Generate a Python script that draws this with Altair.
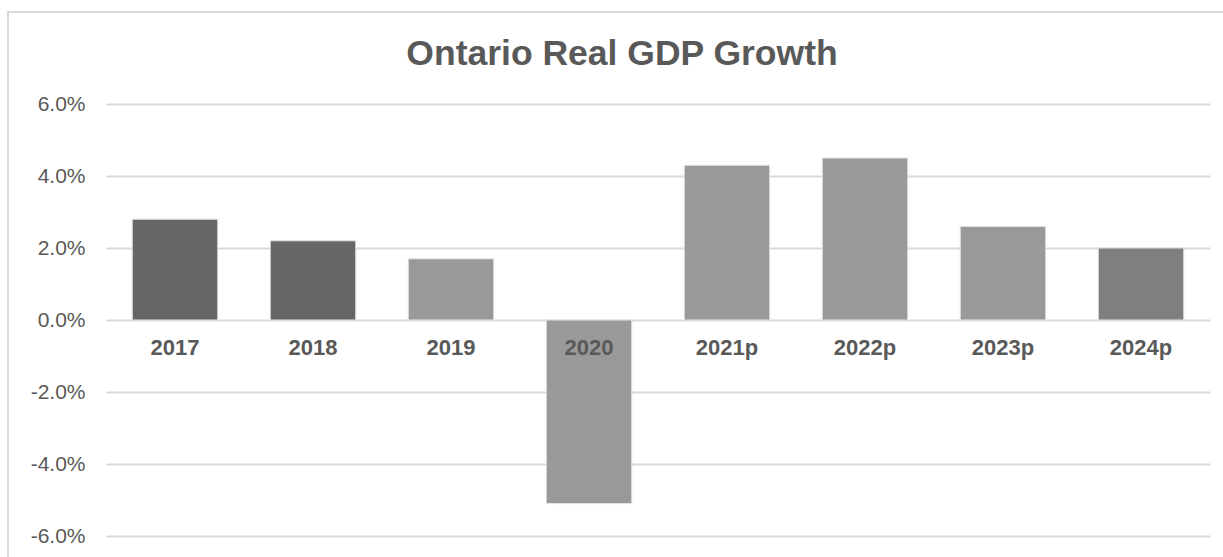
import altair as alt
import pandas as pd

years = ["2017", "2018", "2019", "2020", "2021p", "2022p", "2023p", "2024p"]
growth = [0.028, 0.022, 0.017, -0.051, 0.043, 0.045, 0.026, 0.020]
shade_group = ["A", "A", "B", "B", "B", "B", "B", "C"]

df = pd.DataFrame({"year": years, "growth": growth, "group": shade_group})

FONT = "Liberation Sans"
TXT = "#595959"

xenc = alt.X("year:N", sort=years, axis=None,
             scale=alt.Scale(paddingInner=0.38, paddingOuter=0.19))

frame = alt.Chart(df).mark_rect(fill=None, stroke="#d9d9d9", strokeWidth=2).encode(
    x=alt.value(-98), x2=alt.value(1300), y=alt.value(-92), y2=alt.value(600)
)

bars = alt.Chart(df).mark_bar(stroke="#e6e6e6", strokeWidth=1).encode(
    x=xenc,
    y=alt.Y("growth:Q",
            scale=alt.Scale(domain=[-0.06, 0.06], nice=False, zero=False),
            axis=alt.Axis(values=[-0.06, -0.04, -0.02, 0, 0.02, 0.04, 0.06],
                          format=".1%", title=None, domain=False, ticks=False,
                          labelExpr="replace(datum.label, '\u2212', '-')",
                          labelPadding=21, labelFont=FONT, labelFontSize=21,
                          labelColor=TXT, gridColor="#d9d9d9", gridWidth=2)),
    color=alt.Color("group:N", legend=None,
                    scale=alt.Scale(domain=["A", "B", "C"],
                                    range=["#666666", "#999999", "#7f7f7f"])),
)

labels = alt.Chart(df).mark_text(font=FONT, fontSize=22, fontWeight="bold",
                                 color=TXT, baseline="middle", dy=28).encode(
    x=xenc,
    y=alt.datum(0),
    text="year:N",
)

chart = alt.layer(frame, bars, labels).properties(
    width=1104, height=432,
    background="white",
    title=alt.TitleParams("Ontario Real GDP Growth", font=FONT, fontSize=35.5,
                          fontWeight="bold", color=TXT, anchor="middle",
                          baseline="alphabetic",
                          frame="group", dx=-36, offset=-89),
    autosize=alt.AutoSizeParams(type="none"),
    padding={"left": 106, "top": 104, "right": 13, "bottom": 21},
).configure_view(strokeWidth=0, stroke="transparent")

chart.save("out.html", embed_options={"renderer": "svg", "actions": False})
